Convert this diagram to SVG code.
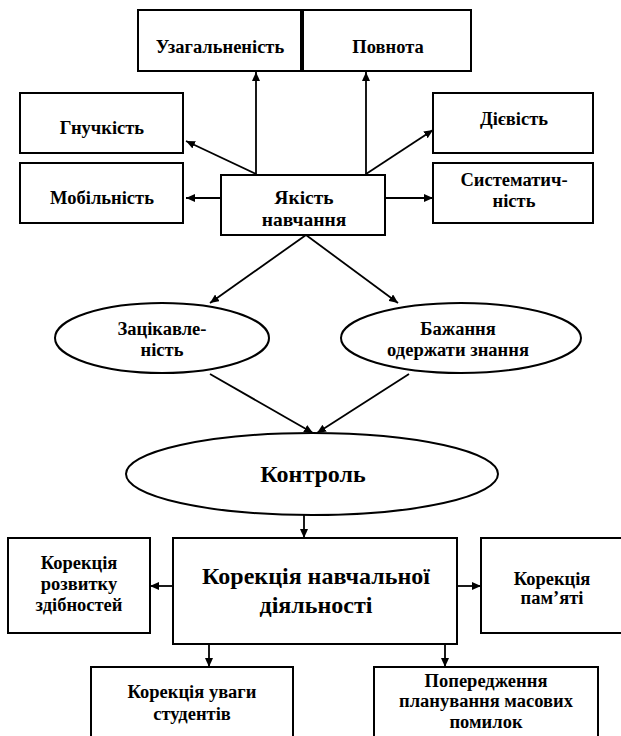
<svg xmlns="http://www.w3.org/2000/svg" width="621" height="736" viewBox="0 0 621 736">
<defs>
<marker id="arr" markerUnits="userSpaceOnUse" markerWidth="10" markerHeight="8" refX="9" refY="4" orient="auto">
<path d="M0,0 L9,4 L0,8 Z" fill="#000"/>
</marker>
<style>
.box{fill:#fff;stroke:#000;stroke-width:2}
.c line{stroke:#000;stroke-width:1.8;marker-end:url(#arr)}
</style>
</defs>
<rect width="621" height="736" fill="#fff"/>
<g id="uzag"><rect class="box" x="138" y="10" width="163" height="61"/><text x="220" y="53" text-anchor="middle" font-family="Liberation Serif" font-weight="bold" font-size="18.5">Узагальненість</text></g>
<g id="povnota"><rect class="box" x="303" y="10" width="168" height="61"/><text x="388" y="53" text-anchor="middle" font-family="Liberation Serif" font-weight="bold" font-size="18.5">Повнота</text></g>
<g id="gnuch"><rect class="box" x="20" y="93" width="163" height="60"/><text x="102" y="134" text-anchor="middle" font-family="Liberation Serif" font-weight="bold" font-size="18.5">Гнучкість</text></g>
<g id="mobil"><rect class="box" x="20" y="163" width="163" height="60"/><text x="102" y="204" text-anchor="middle" font-family="Liberation Serif" font-weight="bold" font-size="18.5">Мобільність</text></g>
<g id="diev"><rect class="box" x="433" y="93" width="160" height="60"/><text x="514" y="125" text-anchor="middle" font-family="Liberation Serif" font-weight="bold" font-size="18.5">Дієвість</text></g>
<g id="system"><rect class="box" x="433" y="163" width="160" height="60"/><text x="514" y="186" text-anchor="middle" font-family="Liberation Serif" font-weight="bold" font-size="18.5">Систематич-</text><text x="514" y="207" text-anchor="middle" font-family="Liberation Serif" font-weight="bold" font-size="18.5">ність</text></g>
<g id="yakist"><rect class="box" x="221" y="175" width="164" height="60"/><text x="304" y="204" text-anchor="middle" font-family="Liberation Serif" font-weight="bold" font-size="19.5">Якість</text><text x="304" y="226" text-anchor="middle" font-family="Liberation Serif" font-weight="bold" font-size="19.5">навчання</text></g>
<g id="zatsik"><ellipse class="box" cx="162" cy="338" rx="107" ry="35"/><text x="162" y="335" text-anchor="middle" font-family="Liberation Serif" font-weight="bold" font-size="18.5">Зацікавле-</text><text x="162" y="356" text-anchor="middle" font-family="Liberation Serif" font-weight="bold" font-size="18.5">ність</text></g>
<g id="bazh"><ellipse class="box" cx="461" cy="338" rx="120" ry="35"/><text x="458" y="335" text-anchor="middle" font-family="Liberation Serif" font-weight="bold" font-size="18.5">Бажання</text><text x="458" y="356" text-anchor="middle" font-family="Liberation Serif" font-weight="bold" font-size="18.5">одержати знання</text></g>
<g id="kontrol"><ellipse class="box" cx="312" cy="474" rx="186" ry="41"/><text x="313" y="482" text-anchor="middle" font-family="Liberation Serif" font-weight="bold" font-size="24">Контроль</text></g>
<g id="korek"><rect class="box" x="173" y="538" width="284" height="106"/><text x="316" y="584" text-anchor="middle" font-family="Liberation Serif" font-weight="bold" font-size="24">Корекція навчальної</text><text x="316" y="613" text-anchor="middle" font-family="Liberation Serif" font-weight="bold" font-size="24">діяльності</text></g>
<g id="rozv"><rect class="box" x="8" y="538" width="142" height="95"/><text x="79" y="569" text-anchor="middle" font-family="Liberation Serif" font-weight="bold" font-size="18.5">Корекція</text><text x="79" y="590" text-anchor="middle" font-family="Liberation Serif" font-weight="bold" font-size="18.5">розвитку</text><text x="79" y="611" text-anchor="middle" font-family="Liberation Serif" font-weight="bold" font-size="18.5">здібностей</text></g>
<g id="pamyat"><rect class="box" x="481" y="538" width="142" height="95"/><text x="552" y="585" text-anchor="middle" font-family="Liberation Serif" font-weight="bold" font-size="18.5">Корекція</text><text x="552" y="604" text-anchor="middle" font-family="Liberation Serif" font-weight="bold" font-size="18.5">пам’яті</text></g>
<g id="uvagy"><rect class="box" x="91" y="667" width="202" height="80"/><text x="192" y="698" text-anchor="middle" font-family="Liberation Serif" font-weight="bold" font-size="18.5">Корекція уваги</text><text x="192" y="720" text-anchor="middle" font-family="Liberation Serif" font-weight="bold" font-size="18.5">студентів</text></g>
<g id="poper"><rect class="box" x="374" y="667" width="224" height="80"/><text x="486" y="687" text-anchor="middle" font-family="Liberation Serif" font-weight="bold" font-size="18.5">Попередження</text><text x="486" y="707" text-anchor="middle" font-family="Liberation Serif" font-weight="bold" font-size="18.5">планування масових</text><text x="486" y="728" text-anchor="middle" font-family="Liberation Serif" font-weight="bold" font-size="18.5">помилок</text></g>
<g id="connectors" class="c">
<line x1="256" y1="175" x2="256" y2="72"/>
<line x1="366" y1="175" x2="366" y2="72"/>
<line x1="256" y1="174" x2="186" y2="141"/>
<line x1="366" y1="174" x2="433" y2="130"/>
<line x1="221" y1="198" x2="186" y2="198"/>
<line x1="385" y1="198" x2="433" y2="198"/>
<line x1="306" y1="235" x2="210" y2="303"/>
<line x1="306" y1="235" x2="398" y2="303"/>
<line x1="210" y1="374" x2="313" y2="433"/>
<line x1="409" y1="374" x2="317" y2="433"/>
<line x1="304" y1="515" x2="304" y2="538"/>
<line x1="173" y1="586" x2="150" y2="586"/>
<line x1="457" y1="586" x2="481" y2="586"/>
<line x1="209" y1="644" x2="209" y2="667"/>
<line x1="445" y1="644" x2="445" y2="667"/>
</g>
</svg>
